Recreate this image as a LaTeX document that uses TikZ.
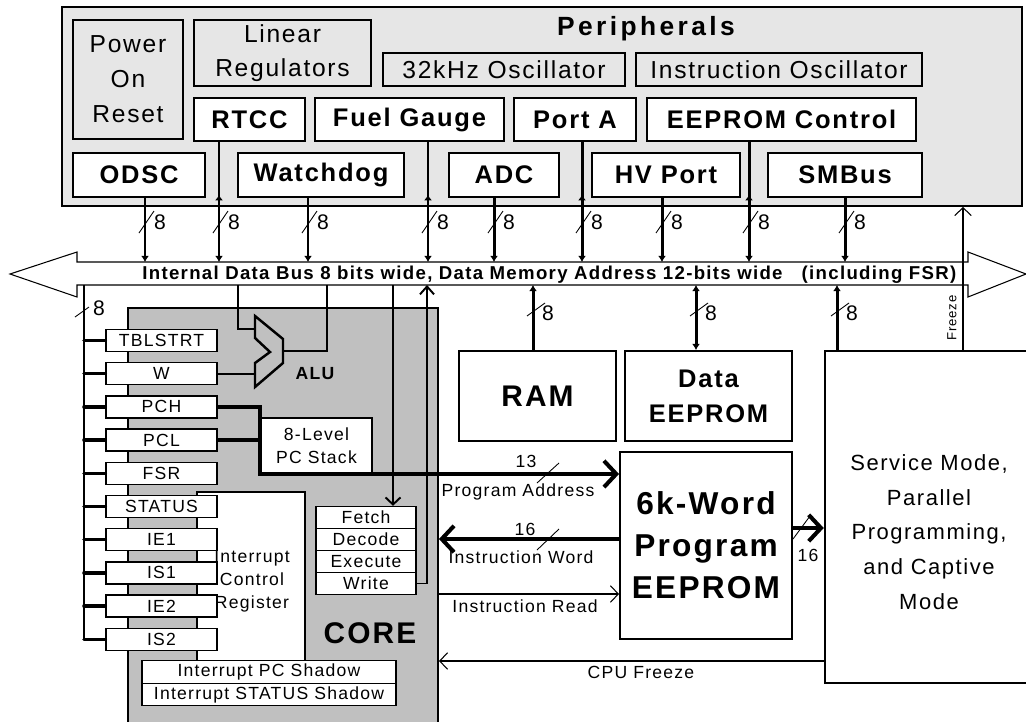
\documentclass[tikz,border=0pt]{standalone}
\usepackage{fontspec}
\setmainfont{Liberation Sans}[LetterSpace=7]
\usetikzlibrary{arrows.meta,positioning}
\definecolor{periphgray}{RGB}{230,230,230}
\definecolor{coregray}{RGB}{192,192,192}

\begin{document}
\begin{tikzpicture}[
  x=0.2mm, y=-0.2mm,
  sz/.style 2 args={minimum width=#1*0.2mm, minimum height=#2*0.2mm},
  outerbox/.style={draw, line width=1.1pt, fill=periphgray, inner sep=0pt},
  softbox/.style={
    draw,
    line width=0.7pt,
    fill=periphgray,
    align=center,
    inner sep=0pt,
    font=\fontsize{14}{20}\selectfont
    },
  periph/.style={
    draw,
    line width=1.1pt,
    fill=white,
    inner sep=0pt,
    font=\bfseries\fontsize{14.5}{17}\selectfont
    },
  regbox/.style={
    draw,
    line width=0.8pt,
    fill=white,
    inner sep=0pt,
    sz={111}{22},
    font=\fontsize{10}{12}\selectfont
    },
  membox/.style={draw, line width=1.1pt, fill=white, align=center, inner sep=0pt},
  small/.style={font=\fontsize{10}{13}\selectfont, inner sep=0pt, align=center},
  lbl/.style={font=\fontsize{12}{14}\selectfont, inner sep=0pt},
  slash/.style={line width=0.5pt},
  busline/.style={line width=1.7pt, -{Latex[length=3.5pt,width=4.5pt]}},
  wire/.style={line width=1.1pt},
  fat/.style={line width=2.3pt},
  fatarrow/.style={line width=2.3pt, -{Straight Barb[length=7pt,width=15pt]}},
  thinarrow/.style={line width=0.6pt, -{Straight Barb[length=4.5pt,width=9.5pt]}}
]
\useasboundingbox (0,0) rectangle (1026,721);
\clip (0,0) rectangle (1026,721);

% peripherals block
\node[outerbox, sz={960}{199}] (periph) at (542,106.5) {};
\node[inner sep=0pt, font=\bfseries\fontsize{15}{17}\selectfont\addfontfeature{LetterSpace=13}]
  (periphtitle) at (646,29) {Peripherals};

\node[softbox, sz={110}{119}] (por) at (128,79.5) {Power\\On\\Reset};
\node[softbox, sz={177}{66}, font=\fontsize{14}{19.5}\selectfont] (linreg) at (282.5,53) {Linear\\Regulators};
\node[softbox, sz={242}{33}] (osc32) at (504,69.5) {32kHz Oscillator};
\node[softbox, sz={286}{33}] (instosc) at (779,69.5) {Instruction Oscillator};

\node[periph, sz={111}{43}] (rtcc) at (249.5,119.5) {RTCC};
\node[periph, sz={189}{43}] (fuel) at (409.5,119.5) {Fuel Gauge};
\node[periph, sz={122}{43}] (porta) at (575,119.5) {Port A};
\node[periph, sz={269}{43}] (eectl) at (781.5,119.5) {EEPROM Control};

\node[periph, sz={132}{44}] (odsc) at (139,175) {ODSC};
\node[periph, sz={166}{44}] (wdog) at (321,175) {Watchdog};
\node[periph, sz={110}{44}] (adc) at (504,175) {ADC};
\node[periph, sz={148}{44}] (hvport) at (666,175) {HV Port};
\node[periph, sz={154}{44}] (smbus) at (845,175) {SMBus};

% internal data bus
\coordinate (bustop) at (0,262);
\coordinate (busbot) at (0,285);
\draw[line width=0.6pt, fill=white] (10,274) -- (77,252) -- (77,262) -- (968,262) -- (968,252)
  -- (1026,274) -- (968,297) -- (968,285) -- (77,285) -- (77,297) -- cycle;
\node[inner sep=0pt, font=\bfseries\fontsize{10.6}{12}\selectfont] (buslabel) at (462.5,275)
  {Internal Data Bus 8 bits wide, Data Memory Address 12-bits wide};
\node[inner sep=0pt, font=\bfseries\fontsize{10.6}{12}\selectfont] (buslabel2) at (879,275)
  {(including FSR)};

\foreach \x/\src in {145/odsc, 308/wdog, 494/adc, 662/hvport, 845/smbus}
  \draw[busline] (\x,0 |- \src.south) -- (\x,0 |- bustop);
\foreach \x/\src in {219/rtcc, 428/fuel, 582/porta, 749/eectl} {
  \draw[busline] (\x,0 |- \src.south) -- (\x,0 |- bustop);
  \draw[line width=0.8pt, -{Latex[length=3pt,width=4.5pt]}] (\x,200) -- (\x,195);
}
\foreach \x in {145,219,308,428,494,582,662,749,845} {
  \draw[slash] (\x-6,233) -- (\x+9,211);
  \node[lbl] (top\x) at (\x+15,222) {8};
}

% core
\node[draw, line width=1.1pt, fill=coregray, sz={310}{422}] (core) at (283,519) {};
\node[inner sep=0pt, font=\bfseries\fontsize{17}{20}\selectfont] (corelabel) at (370,633) {CORE};

\node[draw, line width=1.1pt, fill=white, sz={108}{169}] (icr) at (251,576.5) {};
\node[small, font=\fontsize{10}{13}\selectfont] (icrtext) at (252,581) {Interrupt\\Control\\Register};

% register file on the left bus
\coordinate (leftbus) at (84,0 |- busbot);
\foreach \reg [count=\i from 0] in {TBLSTRT,W,PCH,PCL,FSR,STATUS,IE1,IS1,IE2,IS2}
  \node[regbox] (\reg) at (161.5,{340.5+33.2*\i}) {\reg};
\draw[line width=1.7pt] (leftbus) -- (leftbus |- IS2.west);
\foreach \reg in {TBLSTRT,W,PCH,PCL,FSR,STATUS,IE1,IS1,IE2,IS2}
  \draw[line width=2pt, line cap=round] (leftbus |- \reg.west) -- (\reg.west);
\draw[slash] (75,317) -- (89,307);
\node[lbl] (left8) at (99,308) {8};

% ALU
\draw[line width=1.4pt, fill=coregray] (255,316) -- (283,339) -- (283,363) -- (255,387)
  -- (255,363) -- (270,352) -- (255,338) -- cycle;
\coordinate (aluin1) at (255,329);
\coordinate (aluout) at (283,351);
\node[inner sep=0pt, font=\bfseries\fontsize{10}{12}\selectfont] (alulabel) at (315,374) {ALU};
\draw[wire] (238,0 |- busbot) |- (aluin1);
\draw[wire] (W.east) -- (W.east -| aluin1);
\draw[wire] (aluout) -| (327,0 |- busbot);

% PC stack
\node[draw, line width=1.1pt, fill=white, sz={111}{55}, small] (stack) at (316.5,445.5)
  {8-Level\\PC Stack};

% pipeline
\foreach \stage [count=\i from 0] in {Fetch,Decode,Execute,Write}
  \node[regbox, sz={100}{22}] (\stage) at (366,{517.5+22*\i}) {\stage};
\draw[wire, -{Straight Barb[length=4pt,width=8.5pt]}] (393,0 |- busbot) -- (393,0 |- Fetch.north);
\draw[wire, -{Straight Barb[length=4.5pt,width=8pt]}] (Write.east) -| (427,0 |- busbot);

\node[regbox, sz={254}{22.5}] (pcshadow) at (269,672) {Interrupt PC Shadow};
\node[regbox, sz={254}{22.5}] (stshadow) at (269,694.5) {Interrupt STATUS Shadow};

% memories
\node[membox, sz={157}{90}, font=\bfseries\fontsize{17}{20}\selectfont] (ram) at (537.5,396) {RAM};
\node[membox, sz={167}{90}, font=\bfseries\fontsize{14.5}{20}\selectfont] (deeprom) at (708.5,396) {Data\\EEPROM};
\node[membox, sz={172}{187}, font=\bfseries\fontsize{18}{23.8}\selectfont] (prog) at (706,545.5)
  {6k-Word\\Program\\EEPROM};
\node[membox, line width=1.4pt, sz={215}{332}] (svc) at (932.5,517) {};
\node[inner sep=0pt, align=center, font=\fontsize{12.5}{19.8}\selectfont] (svctext) at (929,532)
  {Service Mode,\\Parallel\\Programming,\\and Captive\\Mode};

\draw[busline] (533,0 |- ram.north) -- (533,0 |- busbot);
\draw[busline, {Latex[length=3.5pt,width=4.5pt]}-{Latex[length=3.5pt,width=4.5pt]}]
  (696,0 |- deeprom.north) -- (696,0 |- busbot);
\draw[busline] (837,0 |- svc.north) -- (837,0 |- busbot);
\foreach \x in {533,696,837} {
  \draw[slash] (\x-6,316) -- (\x+12,303);
  \node[lbl] (mid\x) at (\x+15,313) {8};
}

% program memory paths
\draw[fat] (PCL.east) -- (PCL.east -| stack.west);
\draw[fatarrow] (PCH.east) -| (stack.south west) -- (stack.south west -| prog.west);
\draw[fatarrow] (prog.west |- 0,539) -- (core.east |- 0,539);
\draw[fatarrow] (prog.east |- 0,528) -- (svc.west |- 0,528);
\draw[thinarrow] (core.east |- 0,594) -- (prog.west |- 0,594);
\draw[thinarrow] (svc.west |- 0,661) -- (core.east |- 0,661);
\draw[thinarrow] (963,0 |- svc.north) -- (963,0 |- periph.south);

\draw[slash] (537,483) -- (559,463);
\node[small] (n13) at (526,461) {13};
\node[small] (progaddr) at (518,492) {Program Address};
\draw[slash] (537,550) -- (559,529);
\node[small] (n16a) at (525,529) {16};
\node[small] (instword) at (521,557) {Instruction Word};
\node[small] (instread) at (525,606) {Instruction Read};
\draw[slash] (793,539) -- (810,516);
\node[small] (n16b) at (808,555) {16};
\node[small] (cpufreeze) at (641,672) {CPU Freeze};
\node[inner sep=0pt, rotate=90, font=\fontsize{7.5}{9}\selectfont] (freeze) at (952,318) {Freeze};

\end{tikzpicture}
\end{document}
